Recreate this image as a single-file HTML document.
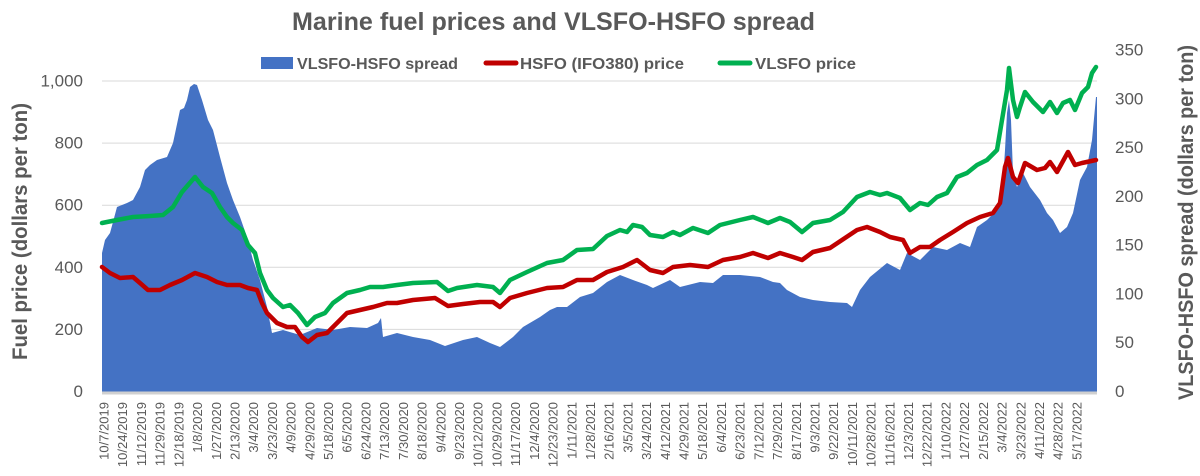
<!DOCTYPE html>
<html>
<head>
<meta charset="utf-8">
<style>
html,body{margin:0;padding:0;background:#fff;}
svg{display:block;}
text{font-family:"Liberation Sans",Arial,sans-serif;fill:#595959;}
</style>
</head>
<body>
<svg width="1200" height="476" viewBox="0 0 1200 476" xmlns="http://www.w3.org/2000/svg">
<rect x="0" y="0" width="1200" height="476" fill="#ffffff"/>

<!-- Title -->
<text x="292" y="30" font-size="25" font-weight="bold" textLength="523" lengthAdjust="spacingAndGlyphs">Marine fuel prices and VLSFO-HSFO spread</text>

<!-- Legend -->
<rect x="261" y="57" width="32" height="12" fill="#4472C4"/>
<text x="297" y="69" font-size="16" font-weight="bold" textLength="161" lengthAdjust="spacingAndGlyphs">VLSFO-HSFO spread</text>
<line x1="486" y1="63" x2="516" y2="63" stroke="#C00000" stroke-width="5" stroke-linecap="round"/>
<text x="520" y="69" font-size="16" font-weight="bold" textLength="164" lengthAdjust="spacingAndGlyphs">HSFO (IFO380) price</text>
<line x1="720" y1="63" x2="750" y2="63" stroke="#00B050" stroke-width="5" stroke-linecap="round"/>
<text x="755" y="69" font-size="16" font-weight="bold" textLength="101" lengthAdjust="spacingAndGlyphs">VLSFO price</text>

<!-- Gridlines -->
<g stroke="#D9D9D9" stroke-width="1">
<line x1="102" y1="81" x2="1097" y2="81"/>
<line x1="102" y1="143.1" x2="1097" y2="143.1"/>
<line x1="102" y1="205.2" x2="1097" y2="205.2"/>
<line x1="102" y1="267.3" x2="1097" y2="267.3"/>
<line x1="102" y1="329.4" x2="1097" y2="329.4"/>
</g>

<!-- Spread area -->
<polygon fill="#4472C4" points="102,392 102,253 105,240 110,233 113,222 117,207 122,205 127,203 133,200 140,187 145,170 150,165 157,160 167,157 173,143 180,110 184,108 187,100 190,87 194,84 197,85 202,100 208,120 213,130 220,157 227,183 233,200 240,217 247,237 253,260 260,280 267,307 272,333 283,330 300,335 317,328 333,330 350,327 367,328 378,323 381,318 383,337 397,333 413,337 430,340 445,346 463,340 477,337 490,343 500,347 513,337 523,327 540,317 550,310 557,307 567,307 580,297 593,293 607,282 620,275 633,280 647,285 653,288 670,280 680,287 700,282 713,283 723,275 740,275 760,277 773,282 780,283 787,290 800,297 813,300 830,302 847,303 852,307 860,290 870,277 887,263 900,270 907,253 920,260 933,247 947,250 960,243 970,247 977,227 987,220 997,210 1002,197 1005,150 1007,113 1009,100 1011,120 1013,173 1017,187 1023,173 1030,187 1040,200 1047,213 1053,220 1060,233 1067,227 1073,213 1080,180 1087,167 1092,140 1096,97 1097,97 1097,392"/>

<!-- Axis tick band -->
<rect x="102" y="391.5" width="995" height="3" fill="#D0D0D0"/>

<!-- HSFO line -->
<polyline fill="none" stroke="#C00000" stroke-width="4.5" stroke-linejoin="round" stroke-linecap="round" points="102,267 110,273 120,278 133,277 140,283 148,290 160,290 170,285 182,280 195,273 207,277 217,282 227,285 240,285 248,288 257,290 262,303 267,313 277,323 287,327 295,327 302,337 308,342 317,335 327,333 333,327 347,313 360,310 373,307 387,303 397,303 413,300 435,298 448,306 463,304 480,302 493,302 500,307 510,298 527,293 547,288 563,287 577,280 593,280 607,272 623,267 637,260 650,270 663,273 673,267 690,265 708,267 723,260 740,257 753,253 768,258 780,253 793,257 802,260 813,252 830,248 842,240 857,230 867,227 880,232 890,237 903,240 910,253 920,247 930,247 940,240 953,232 967,223 980,217 993,213 1000,203 1005,167 1008,158 1013,177 1018,183 1025,163 1037,170 1045,168 1050,162 1057,172 1068,152 1075,165 1082,163 1096,160"/>

<!-- VLSFO line -->
<polyline fill="none" stroke="#00B050" stroke-width="4.5" stroke-linejoin="round" stroke-linecap="round" points="102,223 117,220 133,217 150,216 163,215 173,207 182,192 195,177 203,187 212,193 220,207 227,217 233,223 242,230 248,245 255,253 260,273 267,290 273,298 283,307 290,305 298,313 307,325 315,317 325,313 333,303 347,293 360,290 370,287 383,287 397,285 413,283 437,282 448,291 457,288 477,285 493,287 500,293 510,280 527,272 547,263 563,260 577,250 593,249 607,236 620,230 627,232 633,225 642,227 650,235 663,237 673,232 680,235 693,228 708,233 720,225 740,220 753,217 768,223 780,218 790,222 802,232 813,223 830,220 843,212 857,197 870,192 880,195 887,193 900,198 910,210 920,203 928,205 937,197 947,193 957,177 967,173 977,165 987,160 997,150 1002,120 1007,90 1009,68 1013,100 1017,117 1020,107 1025,92 1033,102 1043,112 1050,102 1057,113 1063,103 1070,100 1075,110 1082,93 1088,87 1092,73 1096,67"/>

<!-- Left axis labels -->
<g font-size="17" text-anchor="end" dominant-baseline="central">
<text x="83" y="81">1,000</text>
<text x="83" y="143.1">800</text>
<text x="83" y="205.2">600</text>
<text x="83" y="267.3">400</text>
<text x="83" y="329.4">200</text>
<text x="83" y="391.5">0</text>
</g>

<!-- Right axis labels -->
<g font-size="17" text-anchor="start" dominant-baseline="central">
<text x="1115" y="50">350</text>
<text x="1115" y="98.8">300</text>
<text x="1115" y="147.6">250</text>
<text x="1115" y="196.4">200</text>
<text x="1115" y="245.1">150</text>
<text x="1115" y="293.9">100</text>
<text x="1115" y="342.7">50</text>
<text x="1115" y="391.5">0</text>
</g>

<!-- Axis titles -->
<text transform="translate(27,231.5) rotate(-90)" text-anchor="middle" font-size="21" font-weight="bold" textLength="257" lengthAdjust="spacingAndGlyphs">Fuel price  (dollars per ton)</text>
<text transform="translate(1193,222.5) rotate(-90)" text-anchor="middle" font-size="21" font-weight="bold" textLength="355" lengthAdjust="spacingAndGlyphs">VLSFO-HSFO spread  (dollars per ton)</text>

<!-- X axis labels -->
<g font-size="13" text-anchor="end" dominant-baseline="central">
<text transform="translate(104.0,402) rotate(-90)">10/7/2019</text>
<text transform="translate(122.7,402) rotate(-90)">10/24/2019</text>
<text transform="translate(141.4,402) rotate(-90)">11/12/2019</text>
<text transform="translate(160.1,402) rotate(-90)">11/29/2019</text>
<text transform="translate(178.8,402) rotate(-90)">12/18/2019</text>
<text transform="translate(197.6,402) rotate(-90)">1/8/2020</text>
<text transform="translate(216.3,402) rotate(-90)">1/27/2020</text>
<text transform="translate(235.0,402) rotate(-90)">2/13/2020</text>
<text transform="translate(253.7,402) rotate(-90)">3/4/2020</text>
<text transform="translate(272.4,402) rotate(-90)">3/23/2020</text>
<text transform="translate(291.1,402) rotate(-90)">4/9/2020</text>
<text transform="translate(309.8,402) rotate(-90)">4/29/2020</text>
<text transform="translate(328.5,402) rotate(-90)">5/18/2020</text>
<text transform="translate(347.2,402) rotate(-90)">6/5/2020</text>
<text transform="translate(365.9,402) rotate(-90)">6/24/2020</text>
<text transform="translate(384.7,402) rotate(-90)">7/13/2020</text>
<text transform="translate(403.4,402) rotate(-90)">7/30/2020</text>
<text transform="translate(422.1,402) rotate(-90)">8/18/2020</text>
<text transform="translate(440.8,402) rotate(-90)">9/4/2020</text>
<text transform="translate(459.5,402) rotate(-90)">9/23/2020</text>
<text transform="translate(478.2,402) rotate(-90)">10/12/2020</text>
<text transform="translate(496.9,402) rotate(-90)">10/29/2020</text>
<text transform="translate(515.6,402) rotate(-90)">11/17/2020</text>
<text transform="translate(534.3,402) rotate(-90)">12/4/2020</text>
<text transform="translate(553.0,402) rotate(-90)">12/23/2020</text>
<text transform="translate(571.8,402) rotate(-90)">1/11/2021</text>
<text transform="translate(590.5,402) rotate(-90)">1/28/2021</text>
<text transform="translate(609.2,402) rotate(-90)">2/16/2021</text>
<text transform="translate(627.9,402) rotate(-90)">3/5/2021</text>
<text transform="translate(646.6,402) rotate(-90)">3/24/2021</text>
<text transform="translate(665.3,402) rotate(-90)">4/12/2021</text>
<text transform="translate(684.0,402) rotate(-90)">4/29/2021</text>
<text transform="translate(702.7,402) rotate(-90)">5/18/2021</text>
<text transform="translate(721.4,402) rotate(-90)">6/4/2021</text>
<text transform="translate(740.1,402) rotate(-90)">6/23/2021</text>
<text transform="translate(758.8,402) rotate(-90)">7/12/2021</text>
<text transform="translate(777.6,402) rotate(-90)">7/29/2021</text>
<text transform="translate(796.3,402) rotate(-90)">8/17/2021</text>
<text transform="translate(815.0,402) rotate(-90)">9/3/2021</text>
<text transform="translate(833.7,402) rotate(-90)">9/22/2021</text>
<text transform="translate(852.4,402) rotate(-90)">10/11/2021</text>
<text transform="translate(871.1,402) rotate(-90)">10/28/2021</text>
<text transform="translate(889.8,402) rotate(-90)">11/16/2021</text>
<text transform="translate(908.5,402) rotate(-90)">12/3/2021</text>
<text transform="translate(927.2,402) rotate(-90)">12/22/2021</text>
<text transform="translate(945.9,402) rotate(-90)">1/10/2022</text>
<text transform="translate(964.7,402) rotate(-90)">1/27/2022</text>
<text transform="translate(983.4,402) rotate(-90)">2/15/2022</text>
<text transform="translate(1002.1,402) rotate(-90)">3/4/2022</text>
<text transform="translate(1020.8,402) rotate(-90)">3/23/2022</text>
<text transform="translate(1039.5,402) rotate(-90)">4/11/2022</text>
<text transform="translate(1058.2,402) rotate(-90)">4/28/2022</text>
<text transform="translate(1076.9,402) rotate(-90)">5/17/2022</text>
</g>
</svg>
</body>
</html>
